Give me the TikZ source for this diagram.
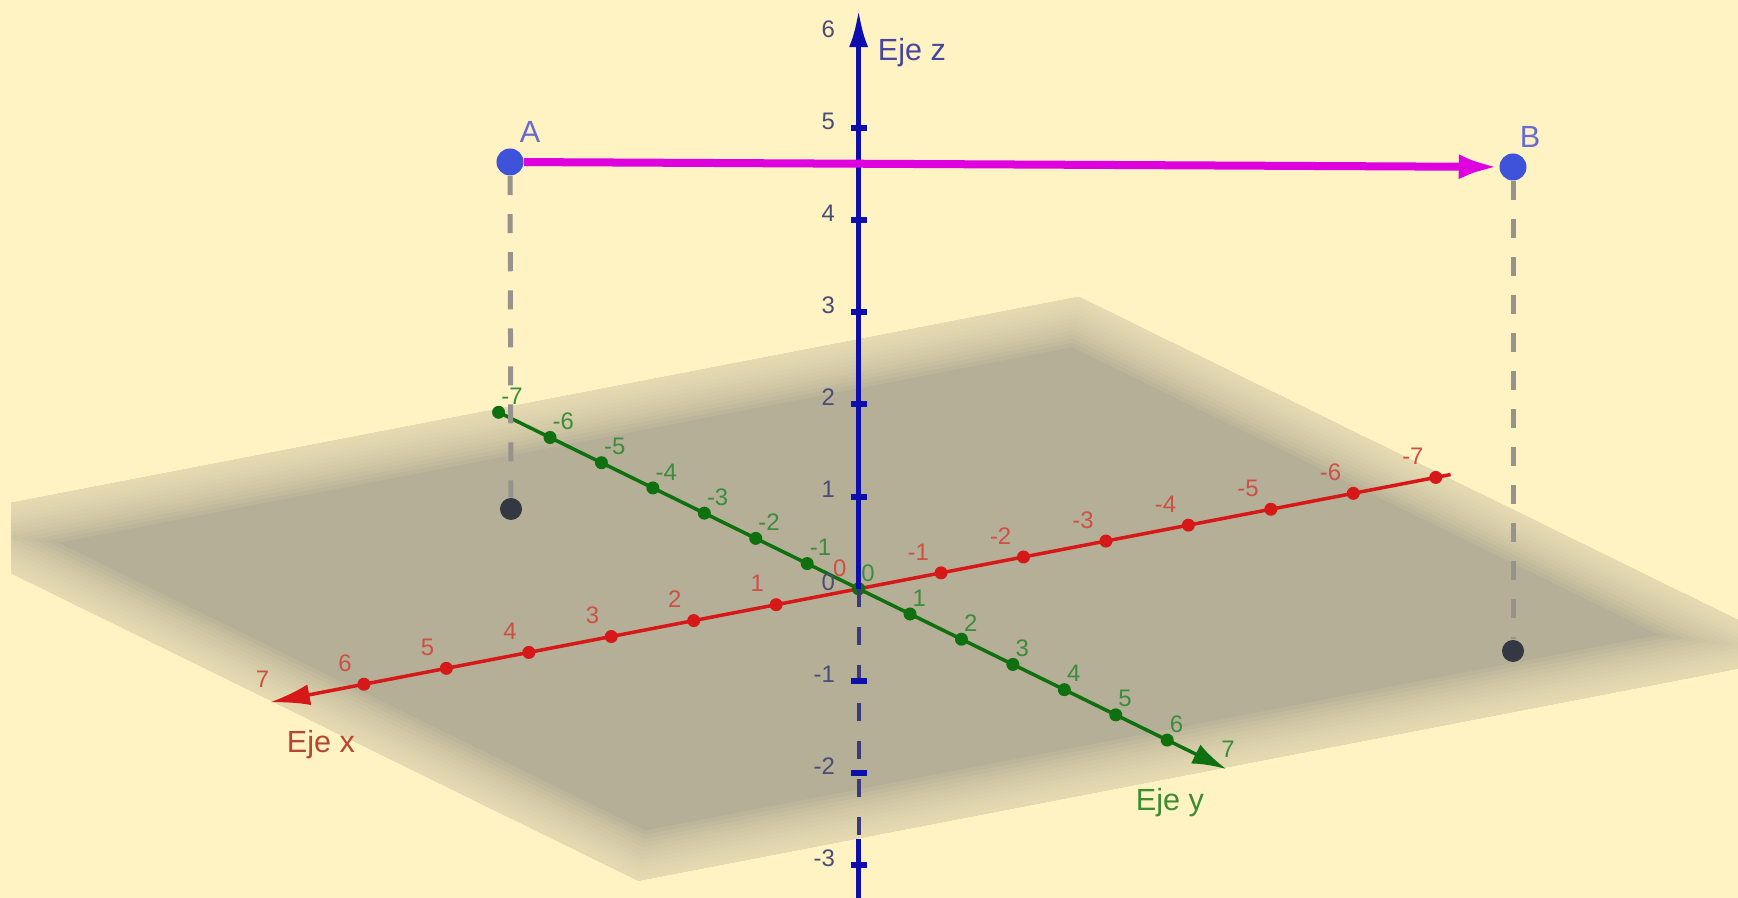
\documentclass[tikz,border=0pt]{standalone}
\usepackage{fontspec}
\setmainfont{Liberation Sans}
\usetikzlibrary{arrows.meta,calc}
\definecolor{fondo}{RGB}{255,243,195}
\definecolor{plano}{RGB}{182,175,151}
\definecolor{rojo}{RGB}{214,24,24}
\definecolor{verde}{RGB}{14,112,14}
\definecolor{azul}{RGB}{14,14,175}
\definecolor{azuloc}{RGB}{58,58,120}
\definecolor{rosa}{RGB}{222,0,222}
\definecolor{ptazul}{RGB}{62,82,218}
\definecolor{ptgris}{RGB}{52,56,66}
\definecolor{gris}{RGB}{150,146,140}
\definecolor{numx}{RGB}{205,80,70}
\definecolor{numy}{RGB}{60,140,60}
\definecolor{numz}{RGB}{75,75,120}
\definecolor{titx}{RGB}{180,70,50}
\definecolor{tity}{RGB}{60,140,50}
\definecolor{titz}{RGB}{70,70,160}
\definecolor{letra}{RGB}{105,105,210}

\begin{document}
\begin{tikzpicture}[x=0.01cm, y=-0.01cm, font=\fontsize{6.8}{8}\selectfont,
    pto/.style={circle, fill=ptazul, inner sep=0pt, minimum size=0.27cm},
    proy/.style={circle, fill=ptgris, inner sep=0pt, minimum size=0.22cm},
    guia/.style={draw=gris, line width=0.05cm, dash pattern=on 0.19cm off 0.19cm},
    titulo/.style={font=\fontsize{8.7}{10}\selectfont, inner sep=0pt},
    num/.style={inner sep=0pt}]
  % ---- background ----
  \fill[fondo] (0,0) rectangle (1738,898);
  \useasboundingbox (0,0) rectangle (1738,898);
  % ---- axes frame ----
  \begin{scope}[shift={(858.6,588.8)}, x={(-0.824cm,-0.159cm)}, y={(0.514cm,-0.252cm)}, z={(0cm,0.921cm)}]
    \coordinate (O) at (0,0,0);
    \coordinate (P1) at (7.1,-7.1,0);
    \coordinate (P2) at (-7.1,-7.1,0);
    \coordinate (P3) at (-7.1,7.1,0);
    \coordinate (P4) at (7.1,7.1,0);
    \coordinate (xa) at (-7.18,0,0);
    \coordinate (xb) at (7.14,0,0);
    \coordinate (ya) at (0,-7.05,0);
    \coordinate (yb) at (0,7.15,0);
    \coordinate (zb) at (0,0,6.28);
    \coordinate (zc) at (0,0,-2.72);
    \coordinate (za) at (0,0,-3.5);
    \foreach \i in {-7,...,7} {
      \coordinate (x\i) at (\i,0,0);
      \coordinate (y\i) at (0,\i,0);
    }
    \foreach \i in {-3,...,6} \coordinate (z\i) at (0,0,\i);
  \end{scope}
  % ---- xy plane (soft edge) ----
  \begin{scope}
    \clip (11,0) rectangle (1738,898);
    \clip (P1) -- (P2) -- (P3) -- (P4) -- cycle;
    \fill[plano] (P1) -- (P2) -- (P3) -- (P4) -- cycle;
    \foreach \w in {12,11,...,1}
      \draw[fondo, opacity=0.09, line width=\w*0.08cm, line join=round] (P1) -- (P2) -- (P3) -- (P4) -- cycle;
  \end{scope}
  % ---- x and y axes ----
  \draw[rojo, line width=0.035cm, -{Latex[length=0.4cm,width=0.21cm]}] (xa) -- (xb);
  \draw[verde, line width=0.035cm, -{Latex[length=0.34cm,width=0.21cm]}] (ya) -- (yb);
  \foreach \i in {-7,...,6} {
    \fill[rojo] (x\i) circle (0.065cm);
    \fill[verde] (y\i) circle (0.065cm);
  }
  % ---- z axis ----
  \draw[azuloc, line width=0.04cm, dash pattern=on 0.18cm off 0.2cm] (O) -- (zc);
  \draw[azul, line width=0.05cm, -{Latex[length=0.37cm,width=0.19cm]}] (O) -- (zb);
  \draw[azul, line width=0.05cm] (zc) -- (za);
  \foreach \i in {-3,-2,-1,1,2,3,4,5} \fill[azul] ($(z\i)+(-8,-3)$) rectangle ($(z\i)+(8,3)$);
  % ---- tick labels ----
  \foreach \i in {-7,...,7} {
    \node[num, text=numx, anchor=east] (lx\i) at ($(x\i)+(-11.5,-21)$) {\i};
    \node[num, text=numy, anchor=west] (ly\i) at ($(y\i)+(2,-16)$) {\i};
  }
  \foreach \i in {-3,...,6} \node[num, text=numz, anchor=east] (lz\i) at ($(z\i)+(-23,-7)$) {\i};
  % ---- axis titles ----
  \node[titulo, text=titz] (tz) at (912,53) {Eje z};
  \node[titulo, text=titx] (tx) at (321,745) {Eje x};
  \node[titulo, text=tity] (ty) at (1170,803) {Eje y};
  % ---- points A, B and their projections ----
  \node[pto] (A) at (510,162) {};
  \node[pto] (B) at (1513,167) {};
  \node[proy] (Ap) at (511,509) {};
  \node[proy] (Bp) at (1513,651) {};
  \draw[guia] (A) -- (Ap);
  \draw[guia] (B) -- (Bp);
  \draw[rosa, line width=0.08cm, -{Latex[length=0.4cm,width=0.25cm]}] (A) -- (B);
  \node[titulo, text=letra] (lA) at (530,132) {A};
  \node[titulo, text=letra] (lB) at (1530,137) {B};
\end{tikzpicture}
\end{document}
